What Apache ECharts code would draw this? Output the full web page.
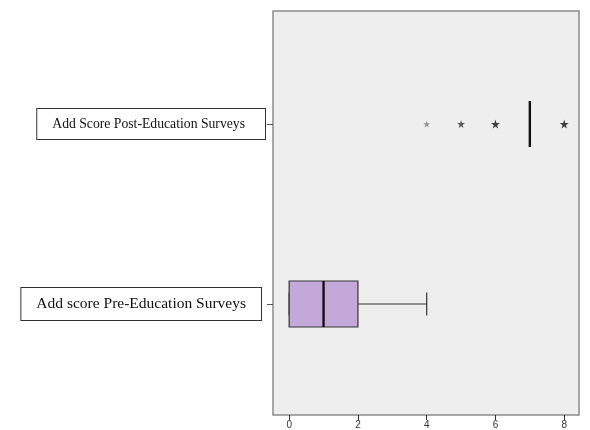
<!DOCTYPE html>
<html>
<head>
<meta charset="utf-8">
<script src="https://cdn.jsdelivr.net/npm/echarts@6/dist/echarts.min.js"></script>
<style>
html, body { margin: 0; padding: 0; background: #fff; }
#main { width: 590px; height: 430px; }
</style>
</head>
<body>
<div id="main"></div>
<script>
// categories (bottom to top)
var categories = ['Add score Pre-Education Surveys', 'Add Score Post-Education Surveys'];
// [min, Q1, median, Q3, max]
var boxData = [
	[0, 0, 1, 2, 4],
	[7, 7, 7, 7, 7]
];
// extreme values: [score, category index]
var outliers = [[4, 1], [5, 1], [6, 1], [8, 1]];
var outlierSize = [7, 8, 9, 9];
var outlierColor = ['#7a7a7a', '#333', '#111', '#111'];
var xTicks = [0, 2, 4, 6, 8];

var boxRows = [];
for (var i = 0; i < boxData.length; i++) {
	boxRows.push([i].concat(boxData[i]));
}

var starPath = 'path://M50,0 L61,35 L98,35 L68,57 L79,91 L50,70 L21,91 L32,57 L2,35 L39,35 Z';

function renderBox(params, api) {
	var cat = api.value(0);
	var pMin = api.coord([api.value(1), cat]);
	var pQ1 = api.coord([api.value(2), cat]);
	var pMed = api.coord([api.value(3), cat]);
	var pQ3 = api.coord([api.value(4), cat]);
	var pMax = api.coord([api.value(5), cat]);
	var y = pMed[1];
	var h = 23;      // half box height
	var c = 11.5;    // half whisker cap
	var line = { stroke: '#333', lineWidth: 1.2 };
	return {
		type: 'group',
		children: [
			{ type: 'line', shape: { x1: pMin[0], y1: y, x2: pQ1[0], y2: y }, style: line },
			{ type: 'line', shape: { x1: pQ3[0], y1: y, x2: pMax[0], y2: y }, style: line },
			{ type: 'line', shape: { x1: pMin[0], y1: y - c, x2: pMin[0], y2: y + c }, style: line },
			{ type: 'line', shape: { x1: pMax[0], y1: y - c, x2: pMax[0], y2: y + c }, style: line },
			{
				type: 'rect',
				shape: { x: pQ1[0], y: y - h, width: pQ3[0] - pQ1[0], height: 2 * h },
				style: { fill: '#c4a9d8', stroke: '#333', lineWidth: 1.2 }
			},
			{
				type: 'line',
				shape: { x1: pMed[0], y1: y - h, x2: pMed[0], y2: y + h },
				style: { stroke: '#111', lineWidth: 2.4 }
			}
		]
	};
}

var myChart = echarts.init(document.getElementById('main'));

var option = {
	animation: false,
	grid: [
		{
			// frame
			left: 273, right: 11, top: 11, bottom: 14,
			show: true,
			backgroundColor: '#eeeeee',
			borderColor: '#8c8c8c',
			borderWidth: 1.5
		},
		{
			left: 273, right: 11, top: 34, bottom: 36
		}
	],
	xAxis: [
		{
			gridIndex: 0,
			type: 'value',
			min: -0.47,
			max: 8.43,
			splitLine: { show: false },
			axisLine: { show: false },
			axisTick: {
				show: true,
				customValues: xTicks,
				length: 5,
				lineStyle: { color: '#333' }
			},
			axisLabel: {
				customValues: xTicks,
				margin: 5,
				fontSize: 10,
				color: '#333',
				fontFamily: 'Liberation Sans'
			}
		},
		{
			gridIndex: 1,
			type: 'value',
			min: -0.47,
			max: 8.43,
			show: false
		}
	],
	yAxis: [
		{
			gridIndex: 0,
			type: 'value',
			show: false
		},
		{
			gridIndex: 1,
			type: 'category',
			data: categories,
			axisLine: { show: false, onZero: false },
			splitLine: { show: false },
			axisTick: {
				show: true,
				alignWithLabel: true,
				length: 6,
				lineStyle: { color: '#555' }
			},
			axisLabel: {
				margin: 8,
				formatter: function (value, index) {
					return index === 0 ? '{pre|' + value + '}{gap|}' : '{post|' + value + '}';
				},
				rich: {
					pre: {
						fontFamily: 'Liberation Serif',
						fontSize: 15.5,
						color: '#111',
						borderColor: '#333',
						borderWidth: 1,
						backgroundColor: '#fff',
						padding: [8, 15, 8, 15]
					},
					post: {
						fontFamily: 'Liberation Serif',
						fontSize: 13.7,
						color: '#111',
						borderColor: '#333',
						borderWidth: 1,
						backgroundColor: '#fff',
						padding: [8, 20, 8, 15]
					},
					gap: { width: 4 }
				}
			}
		}
	],
	series: [
		{
			name: 'box',
			type: 'custom',
			xAxisIndex: 1,
			yAxisIndex: 1,
			renderItem: renderBox,
			encode: { x: [1, 2, 3, 4, 5], y: 0 },
			data: boxRows
		},
		{
			name: 'extreme',
			type: 'scatter',
			xAxisIndex: 1,
			yAxisIndex: 1,
			symbol: starPath,
			symbolSize: function (val, params) {
				return outlierSize[params.dataIndex];
			},
			itemStyle: {
				color: function (params) {
					return outlierColor[params.dataIndex];
				}
			},
			data: outliers
		}
	]
};
myChart.setOption(option);
</script>
</body>
</html>
